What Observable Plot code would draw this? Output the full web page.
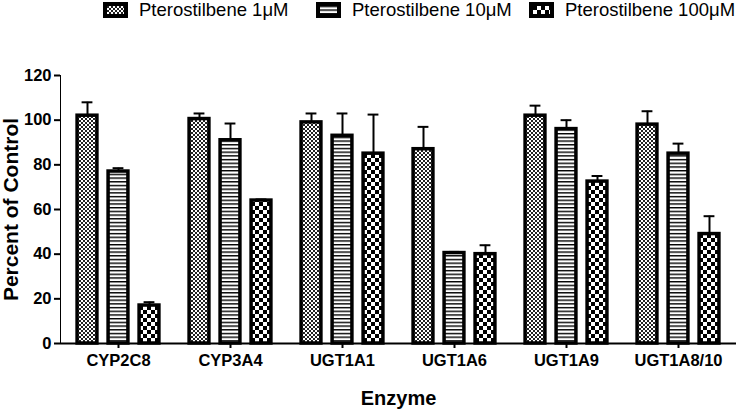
<!DOCTYPE html>
<html>
<head>
<meta charset="utf-8">
<script src="https://cdn.jsdelivr.net/npm/d3@7"></script>
<script src="https://cdn.jsdelivr.net/npm/@observablehq/plot@0.6"></script>
<style>
  body { margin: 0; background: #fff; font-family: "Liberation Sans", Arial, sans-serif; }
  #legend { position: relative; height: 22px; font-size: 18.5px; color: #000; }
  .item { position: absolute; top: 0; display: flex; align-items: center; height: 20px; white-space: nowrap; }
  .item svg { margin-right: 11px; flex: none; }
  #chart svg { display: block; }
</style>
</head>
<body>
<svg width="0" height="0" style="position:absolute">
  <defs>
    <pattern id="p0" patternUnits="userSpaceOnUse" width="4" height="4">
      <rect width="4" height="4" fill="#fff"/>
      <rect width="2" height="2" fill="#222"/>
      <rect x="2" y="2" width="2" height="2" fill="#222"/>
    </pattern>
    <pattern id="p1" patternUnits="userSpaceOnUse" width="4" height="3.7">
      <rect width="4" height="3.7" fill="#fff"/>
      <rect width="4" height="1.4" fill="#000"/>
    </pattern>
    <pattern id="p2" patternUnits="userSpaceOnUse" width="8" height="8">
      <rect width="8" height="8" fill="#fff"/>
      <rect width="4" height="4" fill="#000"/>
      <rect x="4" y="4" width="4" height="4" fill="#000"/>
    </pattern>
  </defs>
</svg>
<div id="legend"></div>
<div id="chart"></div>
<script>
const enzymes = ["CYP2C8", "CYP3A4", "UGT1A1", "UGT1A6", "UGT1A9", "UGT1A8/10"];
const seriesNames = ["Pterostilbene 1μM", "Pterostilbene 10μM", "Pterostilbene 100μM"];
const values1 = [102, 100.5, 99, 87, 102, 98];
const errors1 = [6, 2.5, 4, 10, 4.5, 6];
const values10 = [77, 91, 93, 40.5, 96, 85];
const errors10 = [1.5, 7.5, 10, 0.5, 4, 4.5];
const values100 = [17, 64, 85, 40, 72.5, 49];
const errors100 = [1.5, 0.5, 17.5, 4, 2.5, 8];
const yTicks = [0, 20, 40, 60, 80, 100, 120];

const allValues = [values1, values10, values100];
const allErrors = [errors1, errors10, errors100];

// legend
const legendLefts = [103, 316, 529];
const legend = document.getElementById("legend");
seriesNames.forEach((name, i) => {
  const d = document.createElement("div");
  d.className = "item";
  d.style.left = legendLefts[i] + "px";
  d.innerHTML = `<svg width="25" height="16"><rect x="2" y="2" width="21" height="12" fill="url(#p${i})" stroke="#000" stroke-width="4"/></svg><span>${name}</span>`;
  legend.appendChild(d);
});

const W = 739, H = 387;
const mTop = 53, mBottom = 66, mLeft = 60, mRight = 3;
const band = (W - mLeft - mRight) / enzymes.length;
const barW = 20.5, capW = 11.5, step = 31;
const offsets = [-step, 0, step];

const marks = [];
allValues.forEach((vals, i) => {
  const rows = enzymes.map((e, j) => ({enzyme: e, value: vals[j], top: vals[j] + allErrors[i][j]}));
  marks.push(Plot.ruleX(rows, {x: "enzyme", y1: "value", y2: "top", dx: offsets[i], stroke: "#000", strokeWidth: 2}));
  marks.push(Plot.tickY(rows, {x: "enzyme", y: "top", dx: offsets[i], insetLeft: (band - capW) / 2, insetRight: (band - capW) / 2, stroke: "#000", strokeWidth: 2}));
  marks.push(Plot.barY(rows, {x: "enzyme", y: "value", dx: offsets[i], insetLeft: (band - barW) / 2, insetRight: (band - barW) / 2, fill: `url(#p${i})`, stroke: "#000", strokeWidth: 3.5}));
});
marks.push(Plot.ruleY([0], {stroke: "#000", strokeWidth: 2}));
marks.push(Plot.text(["Percent of Control"], {frameAnchor: "left", textAnchor: "middle", dx: -49, rotate: -90, fontSize: 21, fontWeight: "bold", fill: "#000"}));
marks.push(Plot.text(["Enzyme"], {frameAnchor: "bottom", dy: 55, fontSize: 20, fontWeight: "bold", fill: "#000", lineAnchor: "middle"}));

const chart = Plot.plot({
  width: W, height: H,
  marginTop: mTop, marginBottom: mBottom, marginLeft: mLeft, marginRight: mRight,
  style: {fontFamily: "'Liberation Sans', Arial, sans-serif", fontWeight: "bold", color: "#000", background: "#fff"},
  x: {domain: enzymes, padding: 0, label: null, tickSize: 5, tickPadding: 6},
  y: {domain: [0, 120], ticks: yTicks, label: null, tickSize: 6, tickPadding: 3, line: true},
  marks
});
chart.querySelectorAll('g[aria-label^="x-axis"] text').forEach(t => { t.style.fontSize = "16.5px"; t.style.fontWeight = "bold"; });
chart.querySelectorAll('g[aria-label^="y-axis"] text').forEach(t => { t.style.fontSize = "16.5px"; t.style.fontWeight = "bold"; });
chart.querySelectorAll('g[aria-label*="tick"], g[aria-label*="line"]').forEach(g => { if (!/label/.test(g.getAttribute("aria-label"))) g.setAttribute("stroke-width", 2); });
document.getElementById("chart").appendChild(chart);
</script>
</body>
</html>
